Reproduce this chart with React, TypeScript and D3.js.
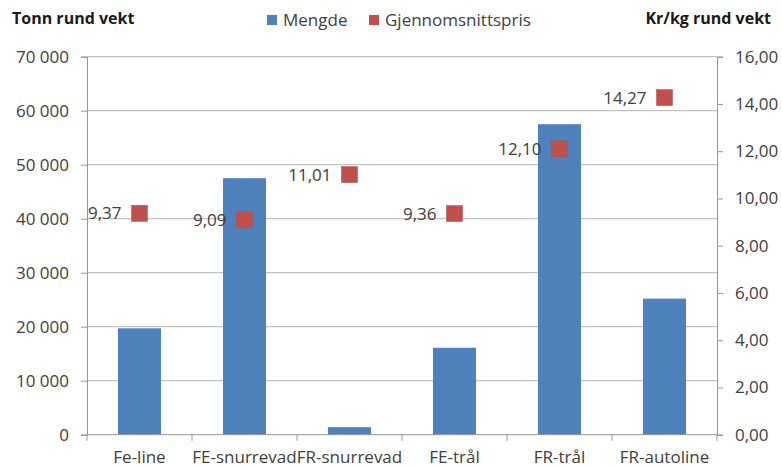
import React, { useEffect, useRef } from 'react';
import * as d3 from 'd3';

const categories = ['Fe-line', 'FE-snurrevad', 'FR-snurrevad', 'FE-trål', 'FR-trål', 'FR-autoline'];
const mengde = [19700, 47500, 1400, 16100, 57500, 25200];
const pris = [9.37, 9.09, 11.01, 9.36, 12.1, 14.27];
const leftTicks = [0, 10000, 20000, 30000, 40000, 50000, 60000, 70000];
const rightTicks = [0, 2, 4, 6, 8, 10, 12, 14, 16];

const FONT = "'Open Sans', 'Noto Sans', sans-serif";
const TEXT = '#404040';
const FS = 17;

export default function App() {
  const svgRef = useRef<SVGSVGElement>(null);

  useEffect(() => {
    const svg = d3.select(svgRef.current);
    svg.selectAll('*').remove();

    const left = 87, right = 717, top = 56.7, bottom = 434.7;

    const x = d3.scaleBand<string>()
      .domain(categories)
      .range([left, right])
      .paddingInner(0.59)
      .paddingOuter(0.295);
    const xCat = d3.scaleBand<string>().domain(categories).range([left, right]).padding(0);

    const yL = d3.scaleLinear().domain([0, 70000]).range([bottom, top]);
    const yR = d3.scaleLinear().domain([0, 16]).range([bottom, top]);

    const fmtL = (v: number) => d3.format(',')(v).replace(/,/g, ' ');
    const fmtR = (v: number) => v.toFixed(2).replace('.', ',');

    // gridlines
    svg.append('g')
      .selectAll('line')
      .data(leftTicks.slice(1))
      .join('line')
      .attr('x1', left).attr('x2', right)
      .attr('y1', (d) => yL(d)).attr('y2', (d) => yL(d))
      .attr('stroke', '#b3b3b3').attr('stroke-width', 1);

    // left axis
    const gL = svg.append('g').attr('transform', `translate(${left},0)`)
      .call(d3.axisLeft(yL).tickValues(leftTicks).tickSize(6).tickPadding(12).tickFormat((d) => fmtL(+d)));
    // right axis
    const gR = svg.append('g').attr('transform', `translate(${right},0)`)
      .call(d3.axisRight(yR).tickValues(rightTicks).tickSize(6).tickPadding(12).tickFormat((d) => fmtR(+d)));
    [gL, gR].forEach((g) => {
      g.select('.domain').attr('stroke', '#969696');
      g.selectAll('.tick line').attr('stroke', '#969696');
      g.selectAll('.tick text').attr('fill', TEXT).attr('font-size', FS).attr('font-family', FONT);
    });

    // bars
    svg.append('g')
      .selectAll('rect')
      .data(categories)
      .join('rect')
      .attr('x', (d) => x(d)!)
      .attr('width', x.bandwidth())
      .attr('y', (d, i) => yL(mengde[i]))
      .attr('height', (d, i) => bottom - yL(mengde[i]))
      .attr('fill', '#4F81BD');

    // bottom axis
    const gB = svg.append('g').attr('transform', `translate(0,${bottom})`);
    gB.append('line').attr('x1', left).attr('x2', right).attr('stroke', '#969696');
    gB.selectAll('.tk')
      .data([...categories.map((c) => xCat(c)!), right])
      .join('line')
      .attr('class', 'tk')
      .attr('x1', (d) => d).attr('x2', (d) => d)
      .attr('y1', 0).attr('y2', 6)
      .attr('stroke', '#969696');
    gB.selectAll('text')
      .data(categories)
      .join('text')
      .attr('x', (d) => xCat(d)! + xCat.bandwidth() / 2)
      .attr('y', 28)
      .attr('text-anchor', 'middle')
      .attr('fill', TEXT)
      .attr('font-size', FS)
      .attr('font-family', FONT)
      .text((d) => d);

    // markers
    const ms = 16;
    const cx = (d: string) => xCat(d)! + xCat.bandwidth() / 2;
    svg.append('g')
      .selectAll('rect')
      .data(categories)
      .join('rect')
      .attr('x', (d) => cx(d) - ms / 2)
      .attr('y', (d, i) => yR(pris[i]) - ms / 2)
      .attr('width', ms).attr('height', ms)
      .attr('fill', '#C0504D')
      .attr('stroke', '#b54a47').attr('stroke-width', 0.5);

    svg.append('g')
      .selectAll('text')
      .data(categories)
      .join('text')
      .attr('x', (d) => cx(d) - ms / 2 - 10)
      .attr('y', (d, i) => yR(pris[i]))
      .attr('dy', '0.35em')
      .attr('text-anchor', 'end')
      .attr('fill', TEXT)
      .attr('font-size', FS)
      .attr('font-family', FONT)
      .text((d, i) => fmtR(pris[i]));

    // axis titles
    svg.append('text').attr('x', 12).attr('y', 24)
      .attr('font-size', 16).attr('font-weight', 'bold').attr('font-family', FONT).attr('fill', '#1a1a1a')
      .text('Tonn rund vekt');
    svg.append('text').attr('x', 771).attr('y', 24).attr('text-anchor', 'end')
      .attr('font-size', 16).attr('font-weight', 'bold').attr('font-family', FONT).attr('fill', '#1a1a1a')
      .text('Kr/kg rund vekt');

    // legend
    const legend = [
      { label: 'Mengde', color: '#4F81BD', x: 267 },
      { label: 'Gjennomsnittspris', color: '#C0504D', x: 369 },
    ];
    const lg = svg.append('g');
    lg.selectAll('rect')
      .data(legend)
      .join('rect')
      .attr('x', (d) => d.x).attr('y', 15)
      .attr('width', 10).attr('height', 10)
      .attr('fill', (d) => d.color);
    lg.selectAll('text')
      .data(legend)
      .join('text')
      .attr('x', (d) => d.x + 16).attr('y', 26)
      .attr('font-size', FS).attr('font-family', FONT).attr('fill', TEXT)
      .text((d) => d.label);
  }, []);

  return (
    <svg ref={svgRef} width={782} height={469} style={{ display: 'block', position: 'absolute', left: 0, top: 0, background: '#fff' }} />
  );
}
